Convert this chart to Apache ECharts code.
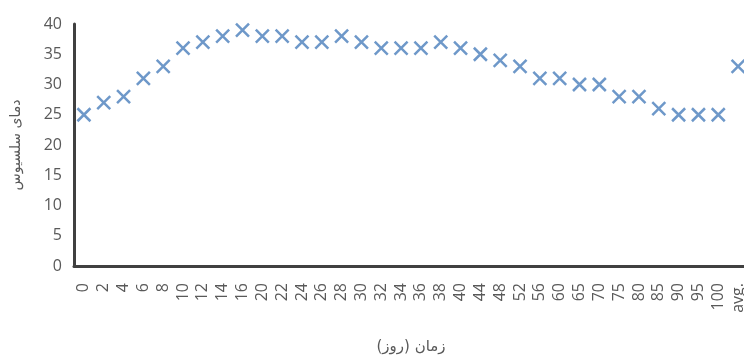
<!DOCTYPE html>
<html>
<head>
<meta charset="utf-8">
<script src="https://cdn.jsdelivr.net/npm/echarts@6/dist/echarts.min.js"></script>
<style>
  html, body { margin: 0; padding: 0; background: #fff; }
  #chart { width: 744px; height: 357px; }
</style>
</head>
<body>
<div id="chart"></div>
<script>
// روز (x axis categories)
const days = ['0', '2', '4', '6', '8', '10', '12', '14', '16', '20', '22', '24', '26', '28', '30', '32', '34',
  '36', '38', '40', '44', '48', '52', '56', '60', '65', '70', '75', '80', '85', '90', '95', '100', 'avg.'];
// دما
const temps = [25, 27, 28, 31, 33, 36, 37, 38, 39, 38, 38, 37, 37, 38, 37, 36, 36,
  36, 37, 36, 35, 34, 33, 31, 31, 30, 30, 28, 28, 26, 25, 25, 25, 33];
const yTicks = [0, 5, 10, 15, 20, 25, 30, 35, 40];

const xMark = 'path://M0,0 L10,10 M10,0 L0,10';

const chart = echarts.init(document.getElementById('chart'));
chart.setOption({
  backgroundColor: '#fff',
  animation: false,
  grid: { left: 74, right: -4, top: 24, bottom: 91, outerBoundsMode: 'none', containLabel: false },
  xAxis: {
    type: 'category',
    data: days,
    name: 'زمان (روز)',
    nameLocation: 'middle',
    nameGap: 74,
    nameTextStyle: { fontFamily: 'DejaVu Sans', fontSize: 15, color: '#595959' },
    axisLine: { lineStyle: { color: '#404040', width: 3 } },
    axisTick: { show: false },
    axisLabel: {
      interval: 0,
      rotate: 90,
      margin: 17,
      fontFamily: 'Open Sans',
      fontSize: 16,
      color: '#595959'
    }
  },
  yAxis: {
    type: 'value',
    min: yTicks[0],
    max: yTicks[yTicks.length - 1],
    interval: 5,
    name: 'دمای سلسیوس',
    nameLocation: 'middle',
    nameGap: 51,
    nameRotate: 90,
    nameTextStyle: { fontFamily: 'DejaVu Sans', fontSize: 14, color: '#595959' },
    axisLine: { show: true, lineStyle: { color: '#404040', width: 3 } },
    axisTick: { show: false },
    splitLine: { show: false },
    axisLabel: { margin: 12, fontFamily: 'Open Sans', fontSize: 16, color: '#595959' }
  },
  series: [{
    type: 'scatter',
    data: temps,
    symbol: xMark,
    symbolSize: 13,
    itemStyle: { color: 'none', borderColor: '#4a7ebb', borderWidth: 2.5 }
  }]
});
</script>
</body>
</html>
